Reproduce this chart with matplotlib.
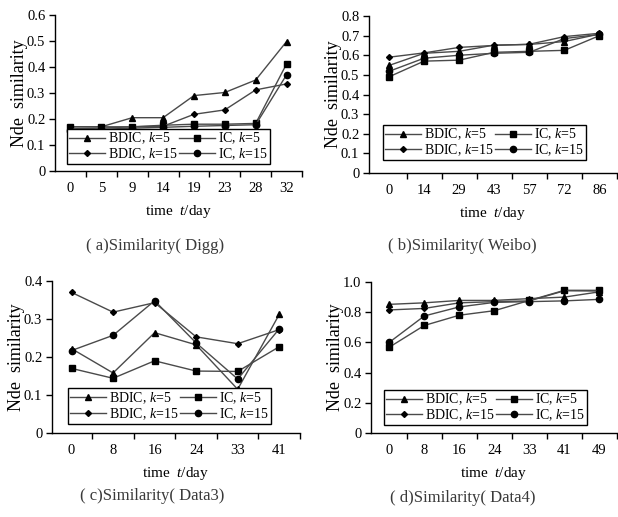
import numpy as np
import matplotlib
matplotlib.use("Agg")
import matplotlib.pyplot as plt

plt.rcParams['font.family'] = ['Liberation Serif', 'Noto Sans CJK SC']
plt.rcParams['mathtext.fontset'] = 'custom'
plt.rcParams['mathtext.it'] = 'Liberation Serif:italic'
plt.rcParams['mathtext.rm'] = 'Liberation Serif'

# ---- data ----
digg_days = ['0', '5', '9', '14', '19', '23', '28', '32']
digg_bdic5 = [0.170, 0.170, 0.205, 0.205, 0.290, 0.302, 0.350, 0.498]
digg_ic5 = [0.170, 0.170, 0.170, 0.176, 0.180, 0.180, 0.183, 0.412]
digg_bdic15 = [0.162, 0.165, 0.170, 0.172, 0.218, 0.235, 0.312, 0.335]
digg_ic15 = [0.155, 0.160, 0.165, 0.168, 0.172, 0.175, 0.178, 0.370]

weibo_days = ['0', '14', '29', '43', '57', '72', '86']
weibo_bdic5 = [0.548, 0.610, 0.620, 0.652, 0.655, 0.670, 0.708]
weibo_ic5 = [0.490, 0.570, 0.575, 0.615, 0.620, 0.625, 0.700]
weibo_bdic15 = [0.590, 0.612, 0.640, 0.650, 0.656, 0.695, 0.712]
weibo_ic15 = [0.518, 0.585, 0.600, 0.610, 0.615, 0.685, 0.706]

d3_days = ['0', '8', '16', '24', '33', '41']
d3_bdic5 = [0.222, 0.158, 0.264, 0.232, 0.115, 0.312]
d3_ic5 = [0.170, 0.144, 0.190, 0.163, 0.162, 0.227]
d3_bdic15 = [0.370, 0.318, 0.343, 0.253, 0.235, 0.272]
d3_ic15 = [0.217, 0.257, 0.348, 0.237, 0.142, 0.274]

d4_days = ['0', '8', '16', '24', '33', '41', '49']
d4_bdic5 = [0.852, 0.862, 0.878, 0.878, 0.890, 0.900, 0.935]
d4_ic5 = [0.568, 0.712, 0.780, 0.810, 0.878, 0.945, 0.945]
d4_bdic15 = [0.815, 0.825, 0.862, 0.870, 0.875, 0.942, 0.940]
d4_ic15 = [0.600, 0.775, 0.835, 0.865, 0.870, 0.875, 0.885]

labels = ['BDIC, $k$=5', 'IC, $k$=5', 'BDIC, $k$=15', 'IC, $k$=15']
captions = ['( a)Similarity( Digg)', '( b)Similarity( Weibo)',
            '( c)Similarity( Data3)', '( d)Similarity( Data4)']
markers = ['^', 's', 'D', 'o']
msizes = [4.5, 5, 3, 4.5]

fig = plt.figure(figsize=(6.18, 5.17), dpi=100)
W, H = 618, 517


def px_axes(left, top, right, bottom):
    return fig.add_axes([left / W, (H - bottom) / H, (right - left) / W, (bottom - top) / H])


def panel(ax, days, series, ymax, ystep, leg_xy, xpad_left=0.5):
    n = len(days)
    x = np.arange(n)
    handles = []
    for s, m, ms in zip(series, markers, msizes):
        h, = ax.plot(x, s, color='#4a4a4a', lw=1.0, marker=m, ms=ms,
                     mfc='black', mec='black', zorder=3)
        handles.append(h)
    ax.set_xlim(-xpad_left, n - 0.5)
    ax.set_ylim(0, ymax)
    yt = np.arange(0, ymax + 1e-9, ystep)
    ax.set_yticks(yt)
    ax.set_yticklabels(['0' if v == 0 else f'{v:.1f}' for v in yt])
    ax.set_xticks(x)
    ax.set_xticklabels(days)
    ax.set_xticks(np.arange(n) + 0.5, minor=True)
    ax.tick_params(axis='x', which='major', length=0, pad=8, labelsize=10.5)
    ax.tick_params(axis='x', which='minor', length=4, width=1, direction='out')
    ax.tick_params(axis='y', length=4, width=1, direction='out', labelsize=10.5, pad=3)
    for sp in ['top', 'right']:
        ax.spines[sp].set_visible(False)
    for sp in ['left', 'bottom']:
        ax.spines[sp].set_linewidth(1.0)
    ax.set_ylabel('Nde  similarity', fontsize=13, labelpad=-1)
    ax.set_xlabel('time  $t$/day', fontsize=11, labelpad=6)
    # column-wise fill -> rows: (BDIC5, IC5), (BDIC15, IC15)
    order = [0, 2, 1, 3]
    leg = ax.legend([handles[i] for i in order], [labels[i] for i in order],
                    ncol=2, loc='lower left', bbox_to_anchor=leg_xy,
                    fontsize=10, handlelength=2.6, handletextpad=0.2,
                    columnspacing=0.1, borderaxespad=0, borderpad=0.15,
                    labelspacing=0.0, fancybox=False, framealpha=1,
                    edgecolor='black')
    leg.get_frame().set_linewidth(1.0)
    leg.set_zorder(5)


ax_a = px_axes(55, 15, 302, 171)
panel(ax_a, digg_days, [digg_bdic5, digg_ic5, digg_bdic15, digg_ic15], 0.6, 0.1,
      (0.049, 0.045))

ax_b = px_axes(369, 16, 617, 173)
panel(ax_b, weibo_days, [weibo_bdic5, weibo_ic5, weibo_bdic15, weibo_ic15], 0.8, 0.1,
      (0.056, 0.083), xpad_left=0.57)

ax_c = px_axes(52, 281, 300, 433)
panel(ax_c, d3_days, [d3_bdic5, d3_ic5, d3_bdic15, d3_ic15], 0.4, 0.1,
      (0.065, 0.06), xpad_left=0.47)

ax_d = px_axes(371, 282, 617, 433)
panel(ax_d, d4_days, [d4_bdic5, d4_ic5, d4_bdic15, d4_ic15], 1.0, 0.2,
      (0.053, 0.053), xpad_left=0.52)

# sub-figure captions (pixel centres)
cap_pos = [(155, 246), (462, 246), (152, 496), (463, 498)]
for cap, (cx, cy) in zip(captions, cap_pos):
    fig.text(cx / W, 1 - cy / H, cap, ha='center', va='center',
             fontsize=12, color='#3a3a3a')

fig.savefig('out.png', dpi=100)
